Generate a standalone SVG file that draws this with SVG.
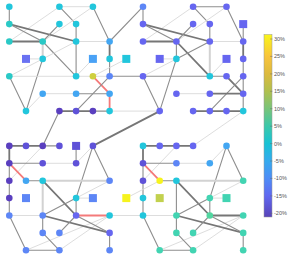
<svg xmlns="http://www.w3.org/2000/svg" width="293" height="262" viewBox="0 0 293 262">
<style>
.L{stroke:#d9d9d9;stroke-width:0.9}
.G{stroke:#8e8e8e;stroke-width:1.1}
.D{stroke:#767676;stroke-width:1.8}
.T{stroke:#d2d2d2;stroke-width:2}
.R{stroke:#f47a7a;stroke-width:1.8}
line{fill:none;stroke-linecap:round}
.cy{fill:#22c6dc}.tl{fill:#2ac9c6}.lb{fill:#43a6f2}.bl{fill:#5d86f6}.pb{fill:#6666f0}
.pu{fill:#5f52d8}.dp{fill:#5a3fbf}.yg{fill:#cfcf3e}.ye{fill:#f6f31e}.ol{fill:#c2d14e}
.tg{fill:#42d4b2}.tg2{fill:#52d6a0}
.lbl{font-family:"Liberation Sans",Arial,sans-serif;font-size:5.5px;fill:#555}
</style>
<defs>
<circle id="dot" r="3.3"/>
<rect id="sq" x="-4" y="-4" width="8" height="8"/>
<linearGradient id="cb" x1="0" y1="0" x2="0" y2="1">
<stop offset="0" stop-color="#f9f51a"/>
<stop offset="0.12" stop-color="#f8c43c"/>
<stop offset="0.216" stop-color="#dcba3e"/>
<stop offset="0.311" stop-color="#b0c04e"/>
<stop offset="0.407" stop-color="#78c47a"/>
<stop offset="0.502" stop-color="#3cc8aa"/>
<stop offset="0.598" stop-color="#18c2d4"/>
<stop offset="0.693" stop-color="#35aaee"/>
<stop offset="0.789" stop-color="#4e8cf6"/>
<stop offset="0.884" stop-color="#6068f0"/>
<stop offset="1" stop-color="#5843b8"/>
</linearGradient>
</defs>
<rect width="293" height="262" fill="#fff"/>
<g id="connectors">
<!-- top-left -->
<line class="G" x1="9.3" y1="6.7" x2="9.3" y2="24.1"/>
<line class="L" x1="59.4" y1="6.7" x2="92.9" y2="6.7"/>
<line class="G" x1="59.4" y1="6.7" x2="76.1" y2="24.1"/>
<line class="L" x1="59.4" y1="6.7" x2="9.3" y2="41.5"/>
<line class="G" x1="92.9" y1="6.7" x2="109.6" y2="41.5"/>
<line class="L" x1="92.9" y1="6.7" x2="42.7" y2="41.5"/>
<line class="D" x1="9.3" y1="24.1" x2="76.1" y2="41.5"/>
<line class="G" x1="9.3" y1="24.1" x2="42.7" y2="41.5"/>
<line class="D" x1="9.3" y1="41.5" x2="42.7" y2="41.5"/>
<line class="G" x1="59.4" y1="24.1" x2="42.7" y2="41.5"/>
<line class="G" x1="76.1" y1="24.1" x2="76.1" y2="41.5"/>
<line class="T" x1="42.7" y1="41.5" x2="42.7" y2="58.9"/>
<line class="G" x1="42.7" y1="41.5" x2="76.1" y2="76.3"/>
<line class="L" x1="76.1" y1="41.5" x2="109.6" y2="41.5"/>
<line class="L" x1="76.1" y1="41.5" x2="9.3" y2="76.3"/>
<line class="D" x1="109.6" y1="41.5" x2="109.6" y2="58.9"/>
<line class="G" x1="109.6" y1="58.9" x2="109.6" y2="76.3"/>
<line class="G" x1="109.6" y1="41.5" x2="143" y2="6.7"/>
<line class="L" x1="26" y1="58.9" x2="42.7" y2="58.9"/>
<line class="G" x1="42.7" y1="58.9" x2="26" y2="111.1"/>
<line class="G" x1="9.3" y1="76.3" x2="26" y2="111.1"/>
<line class="L" x1="9.3" y1="76.3" x2="76.1" y2="76.3"/>
<line class="G" x1="76.1" y1="41.5" x2="76.1" y2="76.3"/>
<line class="L" x1="76.1" y1="76.3" x2="92.9" y2="58.9"/>
<line class="L" x1="76.1" y1="76.3" x2="109.6" y2="76.3"/>
<line class="L" x1="92.9" y1="76.3" x2="126.3" y2="58.9"/>
<line class="G" x1="109.6" y1="76.3" x2="143" y2="76.3"/>
<line class="R" x1="92.9" y1="76.3" x2="109.6" y2="93.7"/>
<line class="R" x1="109.6" y1="93.7" x2="109.6" y2="111.1"/>
<line class="G" x1="76.1" y1="111.1" x2="109.6" y2="76.3"/>
<line class="L" x1="42.7" y1="93.7" x2="76.1" y2="93.7"/>
<line class="G" x1="76.1" y1="93.7" x2="109.6" y2="93.7"/>
<line class="L" x1="26" y1="111.1" x2="42.7" y2="93.7"/>
<line class="D" x1="59.4" y1="111.1" x2="92.9" y2="111.1"/>
<line class="G" x1="92.9" y1="111.1" x2="109.6" y2="111.1"/>
<line class="L" x1="109.6" y1="111.1" x2="159.7" y2="111.1"/>
<line class="G" x1="59.4" y1="111.1" x2="42.7" y2="145.9"/>
<!-- top-right -->
<line class="G" x1="143" y1="6.7" x2="143" y2="24.1"/>
<line class="G" x1="193.1" y1="6.7" x2="226.5" y2="6.7"/>
<line class="G" x1="193.1" y1="6.7" x2="209.8" y2="24.1"/>
<line class="L" x1="193.1" y1="6.7" x2="143" y2="41.5"/>
<line class="G" x1="226.5" y1="6.7" x2="243.2" y2="41.5"/>
<line class="L" x1="226.5" y1="6.7" x2="176.4" y2="41.5"/>
<line class="D" x1="143" y1="24.1" x2="209.8" y2="41.5"/>
<line class="G" x1="143" y1="24.1" x2="176.4" y2="41.5"/>
<line class="D" x1="143" y1="41.5" x2="176.4" y2="41.5"/>
<line class="G" x1="193.1" y1="24.1" x2="176.4" y2="41.5"/>
<line class="G" x1="209.8" y1="24.1" x2="209.8" y2="41.5"/>
<line class="G" x1="176.4" y1="41.5" x2="176.4" y2="58.9"/>
<line class="D" x1="176.4" y1="41.5" x2="209.8" y2="76.3"/>
<line class="L" x1="209.8" y1="41.5" x2="243.2" y2="41.5"/>
<line class="G" x1="209.8" y1="41.5" x2="176.4" y2="58.9"/>
<line class="L" x1="176.4" y1="58.9" x2="143" y2="76.3"/>
<line class="G" x1="243.2" y1="24.1" x2="243.2" y2="41.5"/>
<line class="D" x1="243.2" y1="41.5" x2="243.2" y2="58.9"/>
<line class="G" x1="243.2" y1="58.9" x2="243.2" y2="111.1"/>
<line class="L" x1="159.7" y1="58.9" x2="176.4" y2="58.9"/>
<line class="G" x1="176.4" y1="58.9" x2="159.7" y2="111.1"/>
<line class="G" x1="143" y1="76.3" x2="159.7" y2="111.1"/>
<line class="G" x1="143" y1="76.3" x2="209.8" y2="76.3"/>
<line class="T" x1="209.8" y1="41.5" x2="209.8" y2="76.3"/>
<line class="L" x1="209.8" y1="76.3" x2="226.5" y2="58.9"/>
<line class="G" x1="209.8" y1="76.3" x2="226.5" y2="76.3"/>
<line class="D" x1="226.5" y1="76.3" x2="243.2" y2="93.7"/>
<line class="G" x1="209.8" y1="111.1" x2="243.2" y2="76.3"/>
<line class="L" x1="176.4" y1="93.7" x2="209.8" y2="93.7"/>
<line class="D" x1="209.8" y1="93.7" x2="243.2" y2="93.7"/>
<line class="D" x1="193.1" y1="111.1" x2="243.2" y2="111.1"/>
<line class="D" x1="159.7" y1="111.1" x2="92.9" y2="145.9"/>
<line class="L" x1="243.2" y1="111.1" x2="193.1" y2="145.9"/>
<!-- bottom-left -->
<line class="D" x1="9.3" y1="145.9" x2="42.7" y2="145.9"/>
<line class="G" x1="42.7" y1="145.9" x2="59.4" y2="145.9"/>
<line class="D" x1="9.3" y1="145.9" x2="9.3" y2="163.3"/>
<line class="G" x1="9.3" y1="163.3" x2="9.3" y2="215.5"/>
<line class="L" x1="42.7" y1="145.9" x2="9.3" y2="180.7"/>
<line class="G" x1="9.3" y1="163.3" x2="42.7" y2="163.3"/>
<line class="R" x1="9.3" y1="163.3" x2="26" y2="180.7"/>
<line class="L" x1="42.7" y1="163.3" x2="76.1" y2="163.3"/>
<line class="G" x1="76.1" y1="145.9" x2="76.1" y2="163.3"/>
<line class="L" x1="76.1" y1="163.3" x2="92.9" y2="145.9"/>
<line class="G" x1="92.9" y1="145.9" x2="109.6" y2="180.7"/>
<line class="G" x1="92.9" y1="145.9" x2="76.1" y2="198.1"/>
<line class="G" x1="26" y1="180.7" x2="42.7" y2="180.7"/>
<line class="T" x1="42.7" y1="180.7" x2="109.6" y2="180.7"/>
<line class="T" x1="42.7" y1="180.7" x2="42.7" y2="215.5"/>
<line class="D" x1="42.7" y1="180.7" x2="76.1" y2="215.5"/>
<line class="L" x1="76.1" y1="198.1" x2="109.6" y2="180.7"/>
<line class="L" x1="76.1" y1="198.1" x2="92.9" y2="198.1"/>
<line class="G" x1="76.1" y1="198.1" x2="42.7" y2="215.5"/>
<line class="G" x1="76.1" y1="198.1" x2="76.1" y2="215.5"/>
<line class="L" x1="9.3" y1="215.5" x2="42.7" y2="215.5"/>
<line class="G" x1="9.3" y1="215.5" x2="26" y2="250.3"/>
<line class="G" x1="26" y1="250.3" x2="59.4" y2="250.3"/>
<line class="L" x1="26" y1="250.3" x2="109.6" y2="215.5"/>
<line class="L" x1="59.4" y1="250.3" x2="109.6" y2="215.5"/>
<line class="D" x1="42.7" y1="215.5" x2="109.6" y2="232.9"/>
<line class="G" x1="42.7" y1="215.5" x2="42.7" y2="232.9"/>
<line class="G" x1="42.7" y1="232.9" x2="59.4" y2="250.3"/>
<line class="G" x1="59.4" y1="232.9" x2="76.1" y2="215.5"/>
<line class="R" x1="76.1" y1="215.5" x2="109.6" y2="215.5"/>
<line class="G" x1="76.1" y1="215.5" x2="109.6" y2="232.9"/>
<line class="G" x1="109.6" y1="232.9" x2="109.6" y2="250.3"/>
<line class="L" x1="109.6" y1="215.5" x2="143" y2="215.5"/>
<!-- bottom-right -->
<line class="D" x1="143" y1="145.9" x2="193.1" y2="145.9"/>
<line class="D" x1="143" y1="145.9" x2="143" y2="163.3"/>
<line class="G" x1="143" y1="163.3" x2="143" y2="215.5"/>
<line class="L" x1="176.4" y1="145.9" x2="143" y2="180.7"/>
<line class="G" x1="143" y1="163.3" x2="176.4" y2="163.3"/>
<line class="R" x1="143" y1="163.3" x2="159.7" y2="180.7"/>
<line class="L" x1="176.4" y1="163.3" x2="209.8" y2="163.3"/>
<line class="L" x1="209.8" y1="163.3" x2="226.5" y2="145.9"/>
<line class="G" x1="226.5" y1="145.9" x2="243.2" y2="180.7"/>
<line class="G" x1="226.5" y1="145.9" x2="209.8" y2="198.1"/>
<line class="G" x1="159.7" y1="180.7" x2="176.4" y2="180.7"/>
<line class="T" x1="176.4" y1="180.7" x2="243.2" y2="180.7"/>
<line class="G" x1="176.4" y1="180.7" x2="176.4" y2="215.5"/>
<line class="D" x1="176.4" y1="180.7" x2="209.8" y2="215.5"/>
<line class="L" x1="209.8" y1="198.1" x2="243.2" y2="180.7"/>
<line class="L" x1="209.8" y1="198.1" x2="226.5" y2="198.1"/>
<line class="G" x1="209.8" y1="198.1" x2="176.4" y2="215.5"/>
<line class="G" x1="209.8" y1="198.1" x2="209.8" y2="215.5"/>
<line class="L" x1="126.3" y1="198.1" x2="159.7" y2="180.7"/>
<line class="L" x1="143" y1="215.5" x2="176.4" y2="215.5"/>
<line class="G" x1="143" y1="215.5" x2="159.7" y2="250.3"/>
<line class="G" x1="159.7" y1="250.3" x2="193.1" y2="250.3"/>
<line class="L" x1="159.7" y1="250.3" x2="243.2" y2="215.5"/>
<line class="L" x1="193.1" y1="250.3" x2="243.2" y2="215.5"/>
<line class="D" x1="176.4" y1="215.5" x2="243.2" y2="232.9"/>
<line class="G" x1="176.4" y1="215.5" x2="176.4" y2="232.9"/>
<line class="G" x1="176.4" y1="232.9" x2="193.1" y2="250.3"/>
<line class="G" x1="193.1" y1="232.9" x2="209.8" y2="215.5"/>
<line class="D" x1="209.8" y1="215.5" x2="243.2" y2="215.5"/>
<line class="G" x1="209.8" y1="215.5" x2="243.2" y2="232.9"/>
<line class="G" x1="243.2" y1="232.9" x2="243.2" y2="250.3"/>
</g>
<g id="nodes">
<!-- top-left -->
<g id="n0-0"><use href="#dot" class="cy" x="9.3" y="6.7"/></g>
<g id="n3-0"><use href="#dot" class="cy" x="59.4" y="6.7"/></g>
<g id="n5-0"><use href="#dot" class="cy" x="92.9" y="6.7"/></g>
<g id="n0-1"><use href="#dot" class="tl" x="9.3" y="24.1"/></g>
<g id="n3-1"><use href="#dot" class="cy" x="59.4" y="24.1"/></g>
<g id="n4-1"><use href="#dot" class="cy" x="76.1" y="24.1"/></g>
<g id="n0-2"><use href="#dot" class="tl" x="9.3" y="41.5"/></g>
<g id="n2-2"><use href="#dot" class="tl" x="42.7" y="41.5"/></g>
<g id="n4-2"><use href="#dot" class="cy" x="76.1" y="41.5"/></g>
<g id="n6-2"><use href="#dot" class="lb" x="109.6" y="41.5"/></g>
<g id="n1-3"><use href="#sq" fill="#6a72f2" x="26" y="58.9"/></g>
<g id="n2-3"><use href="#dot" class="cy" x="42.7" y="58.9"/></g>
<g id="n5-3"><use href="#sq" fill="#4aa2f6" x="92.9" y="58.9"/></g>
<g id="n6-3"><use href="#dot" class="cy" x="109.6" y="58.9"/></g>
<g id="n7-3"><use href="#sq" class="cy" x="126.3" y="58.9"/></g>
<g id="n0-4"><use href="#dot" class="tl" x="9.3" y="76.3"/></g>
<g id="n4-4"><use href="#dot" class="cy" x="76.1" y="76.3"/></g>
<g id="n5-4"><use href="#dot" class="yg" x="92.9" y="76.3"/></g>
<g id="n6-4"><use href="#dot" class="bl" x="109.6" y="76.3"/></g>
<g id="n2-5"><use href="#dot" class="lb" x="42.7" y="93.7"/></g>
<g id="n4-5"><use href="#dot" class="lb" x="76.1" y="93.7"/></g>
<g id="n6-5"><use href="#dot" class="lb" x="109.6" y="93.7"/></g>
<g id="n1-6"><use href="#dot" class="cy" x="26" y="111.1"/></g>
<g id="n3-6"><use href="#dot" class="dp" x="59.4" y="111.1"/></g>
<g id="n4-6"><use href="#dot" class="pu" x="76.1" y="111.1"/></g>
<g id="n5-6"><use href="#dot" class="dp" x="92.9" y="111.1"/></g>
<g id="n6-6"><use href="#dot" class="cy" x="109.6" y="111.1"/></g>
<!-- top-right -->
<g id="n8-0"><use href="#dot" class="bl" x="143" y="6.7"/></g>
<g id="n11-0"><use href="#dot" class="pb" x="193.1" y="6.7"/></g>
<g id="n13-0"><use href="#dot" class="pb" x="226.5" y="6.7"/></g>
<g id="n8-1"><use href="#dot" class="pb" x="143" y="24.1"/></g>
<g id="n11-1"><use href="#dot" class="pb" x="193.1" y="24.1"/></g>
<g id="n12-1"><use href="#dot" class="pb" x="209.8" y="24.1"/></g>
<g id="n14-1"><use href="#sq" class="pb" x="243.2" y="24.1"/></g>
<g id="n8-2"><use href="#dot" class="pb" x="143" y="41.5"/></g>
<g id="n10-2"><use href="#dot" class="pb" x="176.4" y="41.5"/></g>
<g id="n12-2"><use href="#dot" class="pb" x="209.8" y="41.5"/></g>
<g id="n14-2"><use href="#dot" class="pb" x="243.2" y="41.5"/></g>
<g id="n9-3"><use href="#sq" class="pb" x="159.7" y="58.9"/></g>
<g id="n10-3"><use href="#dot" class="cy" x="176.4" y="58.9"/></g>
<g id="n13-3"><use href="#sq" class="pb" x="226.5" y="58.9"/></g>
<g id="n14-3"><use href="#dot" class="pb" x="243.2" y="58.9"/></g>
<g id="n8-4"><use href="#dot" class="pb" x="143" y="76.3"/></g>
<g id="n12-4"><use href="#dot" class="cy" x="209.8" y="76.3"/></g>
<g id="n13-4"><use href="#dot" class="pb" x="226.5" y="76.3"/></g>
<g id="n14-4"><use href="#dot" class="pb" x="243.2" y="76.3"/></g>
<g id="n10-5"><use href="#dot" class="pb" x="176.4" y="93.7"/></g>
<g id="n12-5"><use href="#dot" class="pb" x="209.8" y="93.7"/></g>
<g id="n14-5"><use href="#dot" class="pb" x="243.2" y="93.7"/></g>
<g id="n9-6"><use href="#dot" class="pb" x="159.7" y="111.1"/></g>
<g id="n11-6"><use href="#dot" class="pb" x="193.1" y="111.1"/></g>
<g id="n12-6"><use href="#dot" class="pb" x="209.8" y="111.1"/></g>
<g id="n13-6"><use href="#dot" class="pb" x="226.5" y="111.1"/></g>
<g id="n14-6"><use href="#dot" class="cy" x="243.2" y="111.1"/></g>
<!-- bottom-left -->
<g id="n0-8"><use href="#dot" class="dp" x="9.3" y="145.9"/></g>
<g id="n1-8"><use href="#dot" class="pu" x="26" y="145.9"/></g>
<g id="n2-8"><use href="#dot" class="dp" x="42.7" y="145.9"/></g>
<g id="n3-8"><use href="#dot" class="pu" x="59.4" y="145.9"/></g>
<g id="n4-8"><use href="#sq" class="pu" x="76.1" y="145.9"/></g>
<g id="n5-8"><use href="#dot" class="pu" x="92.9" y="145.9"/></g>
<g id="n0-9"><use href="#dot" class="dp" x="9.3" y="163.3"/></g>
<g id="n2-9"><use href="#dot" class="pu" x="42.7" y="163.3"/></g>
<g id="n4-9"><use href="#dot" class="pu" x="76.1" y="163.3"/></g>
<g id="n0-10"><use href="#dot" class="dp" x="9.3" y="180.7"/></g>
<g id="n1-10"><use href="#dot" class="lb" x="26" y="180.7"/></g>
<g id="n2-10"><use href="#dot" class="cy" x="42.7" y="180.7"/></g>
<g id="n6-10"><use href="#dot" class="bl" x="109.6" y="180.7"/></g>
<g id="n0-11"><use href="#dot" class="dp" x="9.3" y="198.1"/></g>
<g id="n1-11"><use href="#sq" class="bl" x="26" y="198.1"/></g>
<g id="n4-11"><use href="#dot" class="cy" x="76.1" y="198.1"/></g>
<g id="n5-11"><use href="#sq" class="bl" x="92.9" y="198.1"/></g>
<g id="n7-11"><use href="#sq" class="ye" x="126.3" y="198.1"/></g>
<g id="n0-12"><use href="#dot" class="bl" x="9.3" y="215.5"/></g>
<g id="n2-12"><use href="#dot" class="bl" x="42.7" y="215.5"/></g>
<g id="n4-12"><use href="#dot" class="pb" x="76.1" y="215.5"/></g>
<g id="n6-12"><use href="#dot" class="cy" x="109.6" y="215.5"/></g>
<g id="n2-13"><use href="#dot" class="bl" x="42.7" y="232.9"/></g>
<g id="n3-13"><use href="#dot" class="bl" x="59.4" y="232.9"/></g>
<g id="n6-13"><use href="#dot" class="pb" x="109.6" y="232.9"/></g>
<g id="n1-14"><use href="#dot" class="bl" x="26" y="250.3"/></g>
<g id="n3-14"><use href="#dot" class="bl" x="59.4" y="250.3"/></g>
<g id="n6-14"><use href="#dot" class="bl" x="109.6" y="250.3"/></g>
<!-- bottom-right -->
<g id="n8-8"><use href="#dot" class="cy" x="143" y="145.9"/></g>
<g id="n9-8"><use href="#dot" class="pb" x="159.7" y="145.9"/></g>
<g id="n10-8"><use href="#dot" class="pb" x="176.4" y="145.9"/></g>
<g id="n11-8"><use href="#dot" class="pb" x="193.1" y="145.9"/></g>
<g id="n13-8"><use href="#dot" class="lb" x="226.5" y="145.9"/></g>
<g id="n8-9"><use href="#dot" class="pu" x="143" y="163.3"/></g>
<g id="n10-9"><use href="#dot" class="bl" x="176.4" y="163.3"/></g>
<g id="n12-9"><use href="#dot" class="lb" x="209.8" y="163.3"/></g>
<g id="n8-10"><use href="#dot" class="pu" x="143" y="180.7"/></g>
<g id="n9-10"><use href="#dot" class="ye" x="159.7" y="180.7"/></g>
<g id="n10-10"><use href="#dot" class="cy" x="176.4" y="180.7"/></g>
<g id="n14-10"><use href="#dot" class="tg" x="243.2" y="180.7"/></g>
<g id="n8-11"><use href="#dot" class="cy" x="143" y="198.1"/></g>
<g id="n9-11"><use href="#sq" class="ol" x="159.7" y="198.1"/></g>
<g id="n12-11"><use href="#dot" class="tg" x="209.8" y="198.1"/></g>
<g id="n13-11"><use href="#sq" class="tg" x="226.5" y="198.1"/></g>
<g id="n8-12"><use href="#dot" class="cy" x="143" y="215.5"/></g>
<g id="n10-12"><use href="#dot" class="tg" x="176.4" y="215.5"/></g>
<g id="n12-12"><use href="#dot" class="tg2" x="209.8" y="215.5"/></g>
<g id="n14-12"><use href="#dot" class="tg" x="243.2" y="215.5"/></g>
<g id="n10-13"><use href="#dot" class="tg" x="176.4" y="232.9"/></g>
<g id="n11-13"><use href="#dot" class="tg" x="193.1" y="232.9"/></g>
<g id="n14-13"><use href="#dot" class="tg" x="243.2" y="232.9"/></g>
<g id="n9-14"><use href="#dot" class="tg" x="159.7" y="250.3"/></g>
<g id="n11-14"><use href="#dot" class="tg" x="193.1" y="250.3"/></g>
<g id="n14-14"><use href="#dot" class="tg" x="243.2" y="250.3"/></g>
</g>
<g id="colorbar">
<rect x="264" y="34.5" width="8" height="182.5" fill="url(#cb)" stroke="#999" stroke-width="0.5"/>
<g stroke="#666" stroke-width="0.5">
<line x1="270.5" y1="39" x2="272" y2="39"/>
<line x1="270.5" y1="56.4" x2="272" y2="56.4"/>
<line x1="270.5" y1="73.9" x2="272" y2="73.9"/>
<line x1="270.5" y1="91.3" x2="272" y2="91.3"/>
<line x1="270.5" y1="108.7" x2="272" y2="108.7"/>
<line x1="270.5" y1="126.2" x2="272" y2="126.2"/>
<line x1="270.5" y1="143.6" x2="272" y2="143.6"/>
<line x1="270.5" y1="161" x2="272" y2="161"/>
<line x1="270.5" y1="178.4" x2="272" y2="178.4"/>
<line x1="270.5" y1="195.9" x2="272" y2="195.9"/>
<line x1="270.5" y1="213.3" x2="272" y2="213.3"/>
</g>
<text class="lbl" x="274" y="41">30%</text>
<text class="lbl" x="274" y="58.4">25%</text>
<text class="lbl" x="274" y="75.9">20%</text>
<text class="lbl" x="274" y="93.3">15%</text>
<text class="lbl" x="274" y="110.7">10%</text>
<text class="lbl" x="274" y="128.2">5%</text>
<text class="lbl" x="274" y="145.6">0%</text>
<text class="lbl" x="274" y="163">-5%</text>
<text class="lbl" x="274" y="180.4">-10%</text>
<text class="lbl" x="274" y="197.9">-15%</text>
<text class="lbl" x="274" y="215.3">-20%</text>
</g>
</svg>
